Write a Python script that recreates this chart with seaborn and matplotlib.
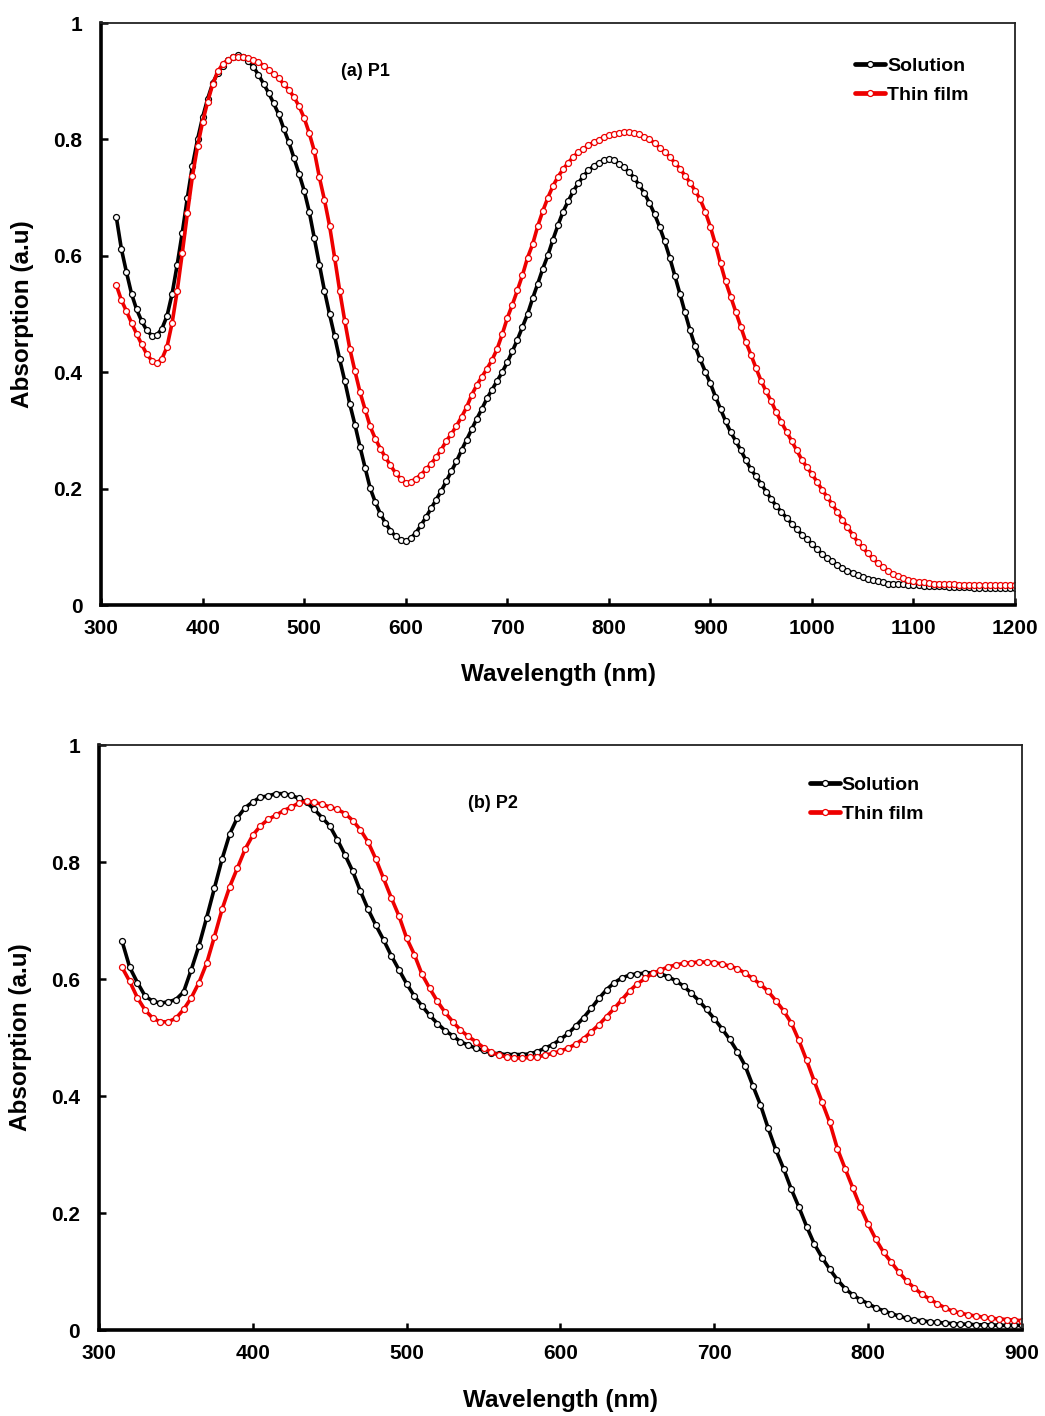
import numpy as np
import pandas as pd
import matplotlib
matplotlib.use("Agg")
import matplotlib.pyplot as plt
import seaborn as sns
from matplotlib.lines import Line2D

# ---------------- data ----------------
wl_p1 = list(range(315, 1205, 5))
sol_p1 = [
    0.667, 0.612, 0.572, 0.535, 0.508, 0.488, 0.472, 0.463, 0.464, 0.475,
    0.497, 0.535, 0.585, 0.640, 0.700, 0.755, 0.800, 0.838, 0.870, 0.897,
    0.915, 0.927, 0.936, 0.942, 0.945, 0.941, 0.935, 0.925, 0.911, 0.896,
    0.880, 0.862, 0.843, 0.818, 0.795, 0.768, 0.741, 0.712, 0.676, 0.630,
    0.585, 0.540, 0.500, 0.462, 0.422, 0.385, 0.345, 0.310, 0.272, 0.236,
    0.201, 0.177, 0.157, 0.141, 0.128, 0.118, 0.112, 0.110, 0.115, 0.124,
    0.137, 0.151, 0.166, 0.181, 0.196, 0.213, 0.230, 0.247, 0.266, 0.284,
    0.302, 0.320, 0.337, 0.355, 0.370, 0.385, 0.400, 0.417, 0.436, 0.456,
    0.478, 0.500, 0.527, 0.552, 0.578, 0.601, 0.628, 0.653, 0.676, 0.694,
    0.711, 0.725, 0.737, 0.747, 0.754, 0.760, 0.764, 0.766, 0.764, 0.758,
    0.752, 0.744, 0.734, 0.721, 0.708, 0.691, 0.672, 0.650, 0.625, 0.597,
    0.566, 0.535, 0.503, 0.472, 0.445, 0.422, 0.401, 0.381, 0.358, 0.337,
    0.316, 0.297, 0.282, 0.266, 0.249, 0.233, 0.221, 0.208, 0.195, 0.182,
    0.170, 0.160, 0.150, 0.140, 0.131, 0.121, 0.114, 0.105, 0.096, 0.088,
    0.081, 0.075, 0.069, 0.064, 0.059, 0.055, 0.052, 0.048, 0.045, 0.043,
    0.041, 0.039, 0.037, 0.037, 0.036, 0.036, 0.035, 0.034, 0.034, 0.033,
    0.033, 0.032, 0.032, 0.032, 0.031, 0.031, 0.031, 0.031, 0.031, 0.030,
    0.030, 0.030, 0.030, 0.030, 0.030, 0.030, 0.030, 0.030,
]
film_p1 = [
    0.550, 0.524, 0.505, 0.485, 0.466, 0.448, 0.431, 0.420, 0.416, 0.423,
    0.444, 0.485, 0.540, 0.605, 0.673, 0.737, 0.788, 0.830, 0.865, 0.895,
    0.917, 0.930, 0.937, 0.941, 0.942, 0.942, 0.940, 0.937, 0.933, 0.927,
    0.920, 0.912, 0.905, 0.895, 0.885, 0.873, 0.857, 0.837, 0.811, 0.780,
    0.735, 0.696, 0.652, 0.597, 0.540, 0.488, 0.440, 0.402, 0.366, 0.336,
    0.307, 0.286, 0.269, 0.254, 0.240, 0.227, 0.217, 0.210, 0.212, 0.217,
    0.224, 0.233, 0.243, 0.254, 0.267, 0.282, 0.294, 0.308, 0.323, 0.340,
    0.361, 0.378, 0.392, 0.406, 0.421, 0.440, 0.465, 0.493, 0.516, 0.541,
    0.567, 0.597, 0.620, 0.651, 0.677, 0.700, 0.720, 0.736, 0.749, 0.760,
    0.770, 0.778, 0.784, 0.790, 0.795, 0.799, 0.804, 0.807, 0.809, 0.811,
    0.812, 0.812, 0.811, 0.809, 0.805, 0.800, 0.794, 0.786, 0.779, 0.770,
    0.760, 0.750, 0.738, 0.726, 0.712, 0.697, 0.676, 0.650, 0.620, 0.587,
    0.556, 0.530, 0.504, 0.478, 0.452, 0.430, 0.407, 0.385, 0.367, 0.350,
    0.331, 0.314, 0.298, 0.282, 0.266, 0.250, 0.237, 0.225, 0.212, 0.198,
    0.186, 0.173, 0.160, 0.147, 0.134, 0.121, 0.109, 0.099, 0.089, 0.080,
    0.072, 0.066, 0.059, 0.054, 0.050, 0.046, 0.043, 0.041, 0.040, 0.039,
    0.038, 0.037, 0.037, 0.036, 0.036, 0.036, 0.035, 0.035, 0.035, 0.034,
    0.034, 0.034, 0.034, 0.034, 0.034, 0.034, 0.034, 0.034,
]

wl_p2 = list(range(315, 905, 5))
sol_p2 = [
    0.665, 0.620, 0.594, 0.571, 0.562, 0.559, 0.561, 0.565, 0.578, 0.616,
    0.657, 0.705, 0.755, 0.805, 0.848, 0.876, 0.893, 0.903, 0.911, 0.913,
    0.917, 0.917, 0.914, 0.909, 0.902, 0.890, 0.876, 0.862, 0.838, 0.812,
    0.784, 0.750, 0.719, 0.692, 0.667, 0.640, 0.616, 0.592, 0.571, 0.554,
    0.538, 0.524, 0.512, 0.503, 0.493, 0.487, 0.482, 0.478, 0.474, 0.472,
    0.471, 0.471, 0.471, 0.472, 0.476, 0.482, 0.488, 0.497, 0.507, 0.520,
    0.534, 0.550, 0.567, 0.582, 0.594, 0.602, 0.607, 0.609, 0.610, 0.611,
    0.609, 0.604, 0.597, 0.588, 0.576, 0.563, 0.548, 0.532, 0.515, 0.497,
    0.476, 0.452, 0.418, 0.385, 0.345, 0.308, 0.276, 0.241, 0.210, 0.177,
    0.147, 0.124, 0.104, 0.086, 0.071, 0.060, 0.052, 0.045, 0.038, 0.033,
    0.028, 0.024, 0.020, 0.017, 0.016, 0.014, 0.013, 0.012, 0.011, 0.010,
    0.010, 0.009, 0.009, 0.009, 0.008, 0.008, 0.008, 0.008,
]
film_p2 = [
    0.620, 0.596, 0.568, 0.547, 0.533, 0.527, 0.527, 0.533, 0.548, 0.568,
    0.594, 0.627, 0.672, 0.719, 0.758, 0.790, 0.822, 0.846, 0.862, 0.873,
    0.880, 0.888, 0.894, 0.901, 0.904, 0.902, 0.899, 0.894, 0.890, 0.883,
    0.871, 0.855, 0.834, 0.805, 0.772, 0.739, 0.708, 0.670, 0.642, 0.608,
    0.584, 0.562, 0.543, 0.527, 0.513, 0.502, 0.493, 0.483, 0.475, 0.470,
    0.467, 0.465, 0.465, 0.466, 0.467, 0.470, 0.473, 0.477, 0.482, 0.489,
    0.498, 0.510, 0.522, 0.536, 0.550, 0.565, 0.580, 0.592, 0.601, 0.610,
    0.615, 0.621, 0.624, 0.627, 0.628, 0.629, 0.629, 0.628, 0.626, 0.622,
    0.618, 0.610, 0.601, 0.591, 0.579, 0.563, 0.546, 0.525, 0.495, 0.461,
    0.425, 0.390, 0.355, 0.310, 0.276, 0.243, 0.210, 0.181, 0.155, 0.133,
    0.116, 0.099, 0.084, 0.072, 0.061, 0.053, 0.045, 0.038, 0.032, 0.029,
    0.026, 0.024, 0.022, 0.020, 0.019, 0.018, 0.017, 0.016,
]

series_names = ["Solution", "Thin film"]
panel_titles = ["(a) P1", "(b) P2"]
x_ticks_p1 = [300, 400, 500, 600, 700, 800, 900, 1000, 1100, 1200]
x_ticks_p2 = [300, 400, 500, 600, 700, 800, 900]
y_ticks = [0, 0.2, 0.4, 0.6, 0.8, 1.0]
y_tick_labels = ["0", "0.2", "0.4", "0.6", "0.8", "1"]

# ---------------- style ----------------
sns.set_style("white")
plt.rcParams["font.family"] = ["Liberation Sans", "DejaVu Sans"]
plt.rcParams["font.weight"] = "bold"
plt.rcParams["axes.labelweight"] = "bold"
plt.rcParams["text.color"] = "black"
plt.rcParams["axes.labelcolor"] = "black"
plt.rcParams["xtick.color"] = "black"
plt.rcParams["ytick.color"] = "black"

BLACK = "#000000"
RED = "#ee0000"
colors = [BLACK, RED]
LW = 2.6
MS = 4.3
MEW = 0.9

fig = plt.figure(figsize=(10.45, 14.16), dpi=100)
ax1 = fig.add_axes([0.0967, 0.5727, 0.8746, 0.4110])
ax2 = fig.add_axes([0.0947, 0.0607, 0.8833, 0.4131])


def draw_panel(ax, wl, sol, film, xticks, title, title_xy, leg_xy):
    df = pd.DataFrame({"wl": wl, series_names[0]: sol, series_names[1]: film})
    for name, c in zip(series_names, colors):
        sns.lineplot(data=df, x="wl", y=name, ax=ax, color=c, lw=LW,
                     marker="o", markersize=MS, markerfacecolor="white",
                     markeredgecolor=c, markeredgewidth=MEW, legend=False)
    ax.set_xlim(xticks[0], xticks[-1])
    ax.set_ylim(0, 1)
    ax.set_xticks(xticks)
    ax.set_xticklabels([str(t) for t in xticks])
    ax.set_yticks(y_ticks)
    ax.set_yticklabels(y_tick_labels)
    ax.tick_params(axis="both", direction="in", length=5, width=1.8,
                   labelsize=15, colors="black", bottom=True, left=True,
                   top=False, right=False)
    ax.tick_params(axis="y", pad=13.5)
    ax.tick_params(axis="x", pad=10)
    for s in ["left", "bottom"]:
        ax.spines[s].set_linewidth(2.6)
        ax.spines[s].set_color("black")
    for s in ["top", "right"]:
        ax.spines[s].set_linewidth(1.3)
        ax.spines[s].set_color("#222222")
    ax.set_xlabel("Wavelength (nm)", fontsize=17.5, fontweight="bold", color="black")
    ax.set_ylabel("Absorption (a.u)", fontsize=17.5, fontweight="bold", color="black")
    ax.xaxis.set_label_coords(0.5, -0.100)
    ax.yaxis.set_label_coords(-0.073, 0.5)
    ax.text(title_xy[0], title_xy[1], title, transform=ax.transAxes,
            ha="center", va="center", fontsize=13, fontweight="bold", color="black")
    handles = [Line2D([0], [0], color=c, lw=LW + 0.8, marker="o", markersize=MS,
                      markerfacecolor="white", markeredgecolor=c,
                      markeredgewidth=MEW) for c in colors]
    ax.legend(handles, series_names, loc="upper left", bbox_to_anchor=leg_xy,
              frameon=False, prop={"size": 14, "weight": "bold"},
              handlelength=1.55, handletextpad=0.1, labelspacing=0.6,
              borderpad=0, borderaxespad=0)


draw_panel(ax1, wl_p1, sol_p1, film_p1, x_ticks_p1, panel_titles[0],
           (0.289, 0.916), (0.825, 0.9416))
draw_panel(ax2, wl_p2, sol_p2, film_p2, x_ticks_p2, panel_titles[1],
           (0.427, 0.901), (0.770, 0.947))

fig.savefig("out.png", dpi=100)
